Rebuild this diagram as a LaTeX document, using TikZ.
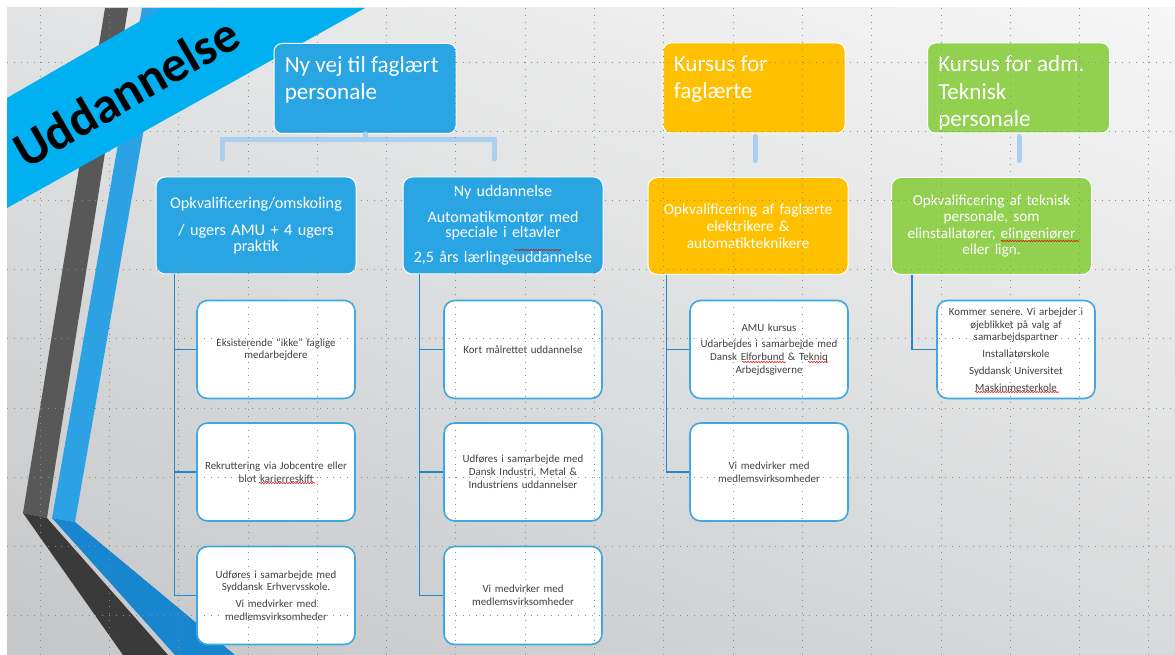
\documentclass[tikz,border=0pt]{standalone}
\usepackage{fontspec}
\setmainfont{Carlito}
\frenchspacing
\usetikzlibrary{positioning}
\usetikzlibrary{shadings}
\usetikzlibrary{decorations.pathmorphing}

\definecolor{slideblue}{RGB}{42,165,228}
\definecolor{ribboncyan}{RGB}{0,176,240}
\definecolor{kursusgold}{RGB}{255,192,0}
\definecolor{kursusgreen}{RGB}{146,208,80}
\definecolor{linkblue}{RGB}{169,207,242}
\definecolor{treeblue}{RGB}{36,134,200}
\definecolor{leafedge}{RGB}{62,168,224}
\definecolor{leaftext}{RGB}{64,64,64}
\definecolor{bandgray}{RGB}{88,88,88}
\definecolor{banddark}{RGB}{58,58,58}
\definecolor{bandblue}{RGB}{44,162,228}
\definecolor{banddeep}{RGB}{24,134,206}
\definecolor{guidegray}{RGB}{140,140,140}
\definecolor{bgtl}{RGB}{226,227,228}
\definecolor{bgtr}{RGB}{246,246,246}
\definecolor{bgbl}{RGB}{196,198,200}
\definecolor{bgbr}{RGB}{216,217,218}

\tikzset{
  topbox/.style={draw=white, line width=0.75pt, rounded corners=6pt,
    minimum width=136.5pt, minimum height=67.5pt, inner sep=0pt},
  toptext/.style={anchor=north west, text=white, align=left, inner sep=0pt,
    font=\fontsize{17.3}{20.5}\selectfont},
  midbox/.style={draw=white, line width=0.75pt, rounded corners=7pt,
    minimum width=145.5pt, minimum height=72.75pt, text width=150pt,
    align=center, text=white, inner sep=0pt},
  leafbox/.style={draw=leafedge, fill=white, line width=1.2pt, rounded corners=8pt,
    minimum width=118.5pt, minimum height=73.5pt, text width=116pt,
    align=center, text=leaftext, inner sep=0pt,
    font=\fontsize{8.2}{9.6}\selectfont},
  link/.style={linkblue, line width=3.75pt, line cap=round},
  tree/.style={treeblue, line width=1.1pt},
  guide/.style={guidegray, line width=0.5pt, dash pattern=on 0.5pt off 4.6pt},
  squiggle/.style={red!85!black, line width=0.4pt, decorate,
    decoration={snake, amplitude=0.45pt, segment length=2pt}}
}

\begin{document}
\begin{tikzpicture}[x=0.75pt,y=0.75pt,yscale=-1,xscale=1]
\useasboundingbox (0,0) rectangle (1175,655);

%Background
\fill[white] (0,0) rectangle (1175,655);
\shade[upper left=bgtl, upper right=bgtr, lower left=bgbl, lower right=bgbr] (7,8) rectangle (1175,655);

%Bands on the left
\fill[bandgray] (105,8) -- (128,8) -- (47,518) -- (23,513) -- cycle;
\fill[banddark] (23,513) -- (47,518) -- (168,655) -- (123,655) -- cycle;
\fill[bandblue] (142,8) -- (165,8) -- (75,522) -- (52,518) -- cycle;
\fill[banddeep] (52,518) -- (75,522) -- (235,655) -- (175,655) -- cycle;

%Ribbon
\fill[ribboncyan] (7,98) -- (163,8) -- (365,8) -- (7,208) -- cycle;
\node[rotate=30, inner sep=0pt, font=\bfseries\fontsize{38}{38}\selectfont] (ribbon-txt) at (126,92) {Uddannelse};

%Top level
\node[topbox, fill=slideblue] (nyvej) at (365,88.5) {};
\node[toptext] (nyvej-txt) at ([shift={(11,13)}]nyvej.north west) {Ny vej til faglært\\personale};
\node[topbox, fill=kursusgold] (kursfag) at (754,88) {};
\node[toptext] (kursfag-txt) at ([shift={(11,13)}]kursfag.north west) {Kursus for\\faglærte};
\node[topbox, fill=kursusgreen] (kursadm) at (1018.5,88) {};
\node[toptext] (kursadm-txt) at ([shift={(11,13)}]kursadm.north west) {Kursus for adm.\\Teknisk\\personale};

%Second level
\node[midbox, fill=slideblue, font=\fontsize{12.2}{11.5}\selectfont] (omskol) at (256,225.5)
  {Opkvalificering/omskoling\\[9pt]/ ugers AMU + 4 ugers\\praktik};
\node[midbox, fill=slideblue, font=\fontsize{12}{11.5}\selectfont] (nyudd) at (503,225.5)
  {Ny uddannelse\\[7.5pt]Automatikmontør med\\speciale i eltavler\\[7.5pt]2,5 års lærlingeuddannelse};
\node[midbox, fill=kursusgold, font=\fontsize{11.6}{12.8}\selectfont] (opkfag) at (748,226)
  {Opkvalificering af faglærte\\elektrikere \&\\automatikteknikere};
\node[midbox, fill=kursusgreen, font=\fontsize{11.4}{12.4}\selectfont] (opktek) at (991.5,226)
  {Opkvalificering af teknisk\\personale, som\\elinstallatører, elingeniører\\eller lign.};

%Links between levels
\draw[link] (nyvej.south) -- ++(0,6) coordinate (fork);
\coordinate (fork-l) at (222,159);
\coordinate (fork-r) at (494,159);
\draw[link] (fork-l) |- (fork) -| (fork-r);
\draw[link] (kursfag.south) ++(1,3) -- ++(0,24);
\draw[link] (kursadm.south) ++(0.5,3) -- ++(0,24);

%Third level
\node[leafbox] (eksist) at (276,349.5) {Eksisterende “ikke” faglige\\medarbejdere};
\node[leafbox] (rekrut) at (276,472) {Rekruttering via Jobcentre eller\\blot karierreskift};
\node[leafbox] (sydudf) at (276,595.5) {Udføres i samarbejde med\\Syddansk Erhvervsskole.\\[3pt]Vi medvirker med\\medlemsvirksomheder};
\node[leafbox] (kort) at (523,349.5) {Kort målrettet uddannelse};
\node[leafbox] (diudf) at (523,472) {Udføres i samarbejde med\\Dansk Industri, Metal \&\\Industriens uddannelser};
\node[leafbox] (medv-a) at (523,595.5) {Vi medvirker med\\medlemsvirksomheder};
\node[leafbox] (amu) at (769,349.5) {AMU kursus\\[3pt]Udarbejdes i samarbejde med\\Dansk Elforbund \& Tekniq\\Arbejdsgiverne};
\node[leafbox] (medv-b) at (769,472) {Vi medvirker med\\medlemsvirksomheder};
\node[leafbox] (senere) at (1016,349.5) {Kommer senere. Vi arbejder i\\øjeblikket på valg af\\samarbejdspartner\\[3pt]Installatørskole\\[3pt]Syddansk Universitet\\[3pt]Maskinmesterkole};

%Tree lines
\draw[tree] (omskol.south west) ++(19,0) |- (eksist.west);
\draw[tree] (omskol.south west) ++(19,0) |- (rekrut.west);
\draw[tree] (omskol.south west) ++(19,0) |- (sydudf.west);
\draw[tree] (nyudd.south west) ++(17,0) |- (kort.west);
\draw[tree] (nyudd.south west) ++(17,0) |- (diudf.west);
\draw[tree] (nyudd.south west) ++(17,0) |- (medv-a.west);
\draw[tree] (opkfag.south west) ++(19,0) |- (amu.west);
\draw[tree] (opkfag.south west) ++(19,0) |- (medv-b.west);
\draw[tree] (opktek.south west) ++(21,0) |- (senere.west);

%Spelling marks
\draw[squiggle] (514,250) -- (561,250);
\draw[squiggle] (259,483) -- (315,483);
\draw[squiggle] (742,362) -- (786,362);
\draw[squiggle] (808,362) -- (828,362);
\draw[squiggle] (1001,241) -- (1079,241);
\draw[squiggle] (975,392) -- (1059,392);

%Guides
\begin{scope}
\clip (7,8) -- (163,8) -- (7,98) -- cycle (365,8) -- (1175,8) -- (1175,655) -- (7,655) -- (7,208) -- cycle;
\foreach \gx in {40,109.3,...,1175} \draw[guide] (\gx,8) -- (\gx,655);
\foreach \gy in {62,131.2,...,655} \draw[guide] (7,\gy) -- (1175,\gy);
\end{scope}

\end{tikzpicture}
\end{document}
